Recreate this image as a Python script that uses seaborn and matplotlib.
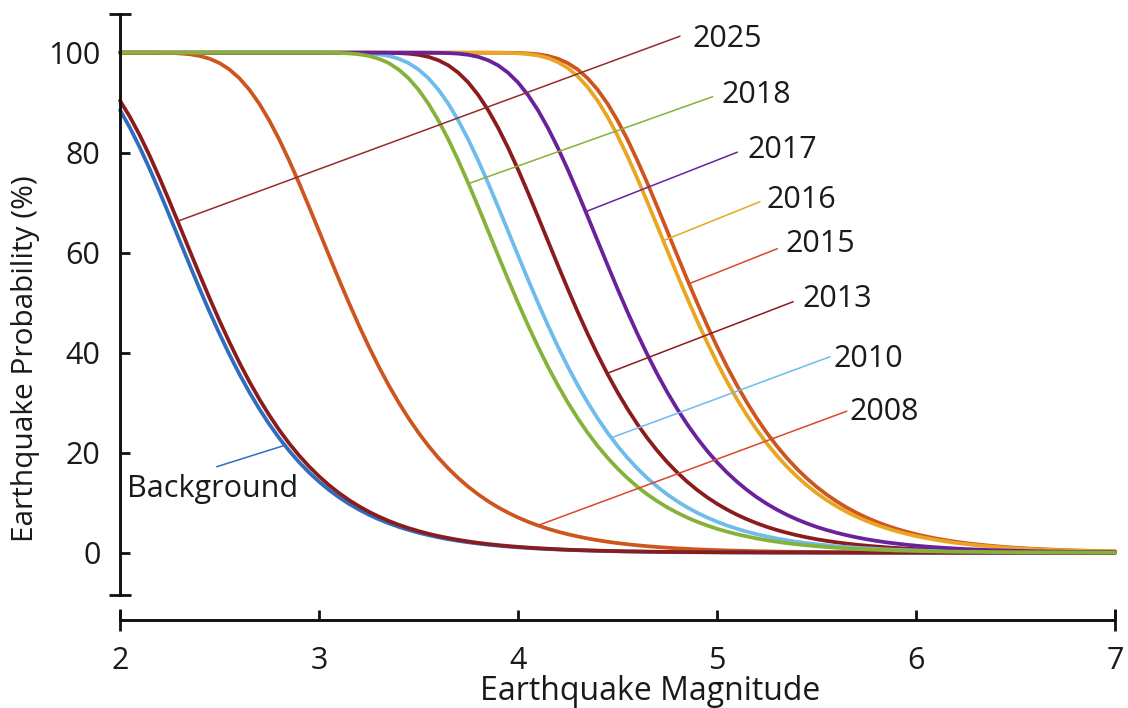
import numpy as np
import pandas as pd
import matplotlib
matplotlib.use("Agg")
import matplotlib.pyplot as plt
import seaborn as sns

# ---------------- data ----------------
magnitude = np.round(np.linspace(2.0, 7.0, 101), 2)   # 0.05 steps

background = [88.52, 84.98, 81.00, 76.66, 72.04, 67.25, 62.39, 57.54, 52.78, 48.17,
              43.78, 39.62, 35.72, 32.10, 28.76, 25.70, 22.92, 20.39, 18.10, 16.05,
              14.21, 12.56, 11.09, 9.79, 8.63, 7.60, 6.69, 5.89, 5.17, 4.55,
              4.00, 3.51, 3.08, 2.70, 2.37, 2.08, 1.83, 1.60, 1.41, 1.23,
              1.08, 0.95, 0.83, 0.73, 0.64, 0.56, 0.49, 0.43, 0.38, 0.33,
              0.29, 0.25, 0.22, 0.19, 0.17, 0.15, 0.13, 0.11, 0.10, 0.09,
              0.08, 0.07, 0.06, 0.05, 0.05, 0.04, 0.03, 0.03, 0.03, 0.02,
              0.02, 0.02, 0.02, 0.01, 0.01, 0.01, 0.01, 0.01, 0.01, 0.01,
              0.01, 0, 0, 0, 0, 0, 0, 0, 0, 0,
              0, 0, 0, 0, 0, 0, 0, 0, 0, 0,
              0]

p2025 = [90.40, 87.16, 83.44, 79.30, 74.84, 70.14, 65.31, 60.45, 55.62, 50.92,
         46.39, 42.09, 38.02, 34.23, 30.73, 27.50, 24.55, 21.87, 19.44, 17.25,
         15.29, 13.52, 11.95, 10.55, 9.31, 8.20, 7.22, 6.36, 5.59, 4.92,
         4.32, 3.79, 3.33, 2.93, 2.57, 2.25, 1.97, 1.73, 1.52, 1.33,
         1.17, 1.03, 0.90, 0.79, 0.69, 0.60, 0.53, 0.47, 0.41, 0.36,
         0.31, 0.27, 0.24, 0.21, 0.18, 0.16, 0.14, 0.12, 0.11, 0.10,
         0.08, 0.07, 0.06, 0.06, 0.05, 0.04, 0.04, 0.03, 0.03, 0.03,
         0.02, 0.02, 0.02, 0.02, 0.01, 0.01, 0.01, 0.01, 0.01, 0.01,
         0.01, 0.01, 0, 0, 0, 0, 0, 0, 0, 0,
         0, 0, 0, 0, 0, 0, 0, 0, 0, 0,
         0]

p2008 = [100, 100, 100, 100, 99.98, 99.95, 99.86, 99.69, 99.36, 98.80,
         97.93, 96.65, 94.89, 92.61, 89.79, 86.45, 82.65, 78.43, 73.92, 69.18,
         64.34, 59.47, 54.67, 50.00, 45.51, 41.25, 37.24, 33.51, 30.06, 26.89,
         23.99, 21.36, 18.98, 16.84, 14.92, 13.19, 11.66, 10.29, 9.07, 8.00,
         7.04, 6.19, 5.45, 4.79, 4.21, 3.70, 3.25, 2.85, 2.50, 2.19,
         1.92, 1.69, 1.48, 1.30, 1.14, 1.00, 0.87, 0.77, 0.67, 0.59,
         0.52, 0.45, 0.40, 0.35, 0.30, 0.27, 0.23, 0.20, 0.18, 0.16,
         0.14, 0.12, 0.11, 0.09, 0.08, 0.07, 0.06, 0.05, 0.05, 0.04,
         0.04, 0.03, 0.03, 0.02, 0.02, 0.02, 0.02, 0.01, 0.01, 0.01,
         0.01, 0.01, 0.01, 0.01, 0.01, 0.01, 0, 0, 0, 0,
         0]

p2018 = [100, 100, 100, 100, 100, 100, 100, 100, 100, 100,
         100, 100, 100, 100, 100, 100, 100, 100, 100, 100,
         100, 99.98, 99.95, 99.86, 99.69, 99.36, 98.80, 97.93, 96.65, 94.89,
         92.61, 89.79, 86.45, 82.65, 78.43, 73.92, 69.18, 64.34, 59.47, 54.67,
         50.00, 45.51, 41.25, 37.24, 33.51, 30.06, 26.89, 23.99, 21.36, 18.98,
         16.84, 14.92, 13.19, 11.66, 10.29, 9.07, 8.00, 7.04, 6.19, 5.45,
         4.79, 4.21, 3.70, 3.25, 2.85, 2.50, 2.19, 1.92, 1.69, 1.48,
         1.30, 1.14, 1.00, 0.87, 0.77, 0.67, 0.59, 0.52, 0.45, 0.40,
         0.35, 0.30, 0.27, 0.23, 0.20, 0.18, 0.16, 0.14, 0.12, 0.11,
         0.09, 0.08, 0.07, 0.06, 0.05, 0.05, 0.04, 0.04, 0.03, 0.03,
         0.02]

p2010 = [100, 100, 100, 100, 100, 100, 100, 100, 100, 100,
         100, 100, 100, 100, 100, 100, 100, 100, 100, 100,
         100, 100, 100, 99.98, 99.95, 99.86, 99.69, 99.36, 98.80, 97.93,
         96.65, 94.89, 92.61, 89.79, 86.45, 82.65, 78.43, 73.92, 69.18, 64.34,
         59.47, 54.67, 50.00, 45.51, 41.25, 37.24, 33.51, 30.06, 26.89, 23.99,
         21.36, 18.98, 16.84, 14.92, 13.19, 11.66, 10.29, 9.07, 8.00, 7.04,
         6.19, 5.45, 4.79, 4.21, 3.70, 3.25, 2.85, 2.50, 2.19, 1.92,
         1.69, 1.48, 1.30, 1.14, 1.00, 0.87, 0.77, 0.67, 0.59, 0.52,
         0.45, 0.40, 0.35, 0.30, 0.27, 0.23, 0.20, 0.18, 0.16, 0.14,
         0.12, 0.11, 0.09, 0.08, 0.07, 0.06, 0.05, 0.05, 0.04, 0.04,
         0.03]

p2013 = [100, 100, 100, 100, 100, 100, 100, 100, 100, 100,
         100, 100, 100, 100, 100, 100, 100, 100, 100, 100,
         100, 100, 100, 100, 100, 100, 99.99, 99.97, 99.92, 99.81,
         99.58, 99.17, 98.49, 97.47, 96.00, 94.05, 91.55, 88.52, 84.98, 81.00,
         76.66, 72.04, 67.25, 62.39, 57.54, 52.78, 48.17, 43.78, 39.62, 35.72,
         32.10, 28.76, 25.70, 22.92, 20.39, 18.10, 16.05, 14.21, 12.56, 11.09,
         9.79, 8.63, 7.60, 6.69, 5.89, 5.17, 4.55, 4.00, 3.51, 3.08,
         2.70, 2.37, 2.08, 1.83, 1.60, 1.41, 1.23, 1.08, 0.95, 0.83,
         0.73, 0.64, 0.56, 0.49, 0.43, 0.38, 0.33, 0.29, 0.25, 0.22,
         0.19, 0.17, 0.15, 0.13, 0.11, 0.10, 0.09, 0.08, 0.07, 0.06,
         0.05]

p2017 = [100, 100, 100, 100, 100, 100, 100, 100, 100, 100,
         100, 100, 100, 100, 100, 100, 100, 100, 100, 100,
         100, 100, 100, 100, 100, 100, 100, 100, 100, 100,
         100, 99.99, 99.97, 99.92, 99.81, 99.58, 99.17, 98.49, 97.47, 96.00,
         94.05, 91.55, 88.52, 84.98, 81.00, 76.66, 72.04, 67.25, 62.39, 57.54,
         52.78, 48.17, 43.78, 39.62, 35.72, 32.10, 28.76, 25.70, 22.92, 20.39,
         18.10, 16.05, 14.21, 12.56, 11.09, 9.79, 8.63, 7.60, 6.69, 5.89,
         5.17, 4.55, 4.00, 3.51, 3.08, 2.70, 2.37, 2.08, 1.83, 1.60,
         1.41, 1.23, 1.08, 0.95, 0.83, 0.73, 0.64, 0.56, 0.49, 0.43,
         0.38, 0.33, 0.29, 0.25, 0.22, 0.19, 0.17, 0.15, 0.13, 0.11,
         0.10]

p2016 = [100, 100, 100, 100, 100, 100, 100, 100, 100, 100,
         100, 100, 100, 100, 100, 100, 100, 100, 100, 100,
         100, 100, 100, 100, 100, 100, 100, 100, 100, 100,
         100, 100, 100, 100, 100, 100, 100, 100, 99.98, 99.96,
         99.88, 99.73, 99.44, 98.94, 98.13, 96.94, 95.28, 93.11, 90.40, 87.16,
         83.44, 79.30, 74.84, 70.14, 65.31, 60.45, 55.62, 50.92, 46.39, 42.09,
         38.02, 34.23, 30.73, 27.50, 24.55, 21.87, 19.44, 17.25, 15.29, 13.52,
         11.95, 10.55, 9.31, 8.20, 7.22, 6.36, 5.59, 4.92, 4.32, 3.79,
         3.33, 2.93, 2.57, 2.25, 1.97, 1.73, 1.52, 1.33, 1.17, 1.03,
         0.90, 0.79, 0.69, 0.60, 0.53, 0.47, 0.41, 0.36, 0.31, 0.27,
         0.24]

p2015 = [100, 100, 100, 100, 100, 100, 100, 100, 100, 100,
         100, 100, 100, 100, 100, 100, 100, 100, 100, 100,
         100, 100, 100, 100, 100, 100, 100, 100, 100, 100,
         100, 100, 100, 100, 100, 100, 100, 100, 100, 99.98,
         99.95, 99.86, 99.69, 99.36, 98.80, 97.93, 96.65, 94.89, 92.61, 89.79,
         86.45, 82.65, 78.43, 73.92, 69.18, 64.34, 59.47, 54.67, 50.00, 45.51,
         41.25, 37.24, 33.51, 30.06, 26.89, 23.99, 21.36, 18.98, 16.84, 14.92,
         13.19, 11.66, 10.29, 9.07, 8.00, 7.04, 6.19, 5.45, 4.79, 4.21,
         3.70, 3.25, 2.85, 2.50, 2.19, 1.92, 1.69, 1.48, 1.30, 1.14,
         1.00, 0.87, 0.77, 0.67, 0.59, 0.52, 0.45, 0.40, 0.35, 0.30,
         0.27]

# drawing order: first is lowest
series = {
    "2015": p2015, "2016": p2016, "2013": p2013, "2010": p2010,
    "2017": p2017, "2008": p2008, "Background": background,
    "2025": p2025, "2018": p2018,
}
palette = {
    "2015": "#CD561F", "2016": "#E9A622", "2013": "#8A1C1E", "2010": "#6DBCEB",
    "2017": "#6A229C", "2008": "#CD561F", "Background": "#2F6DC0",
    "2025": "#8A1C1E", "2018": "#86B23B",
}

# leader lines: label, point on curve, line end, text anchor (left, baseline), colour
leaders = [
    ("2025", (2.29, 66.3), (4.814, 103.3), (4.879, 101.1), "#982A2A"),
    ("2018", (3.75, 73.8), (4.978, 91.2), (5.025, 89.9), "#86B23B"),
    ("2017", (4.34, 68.2), (5.102, 80.1), (5.151, 78.9), "#6A229C"),
    ("2016", (4.73, 62.4), (5.216, 70.2), (5.251, 68.9), "#E9A622"),
    ("2015", (4.86, 53.8), (5.303, 60.8), (5.342, 60.2), "#D9482B"),
    ("2013", (4.45, 35.9), (5.383, 50.2), (5.432, 49.2), "#8A1C1E"),
    ("2010", (4.47, 23.0), (5.568, 39.2), (5.585, 37.2), "#6DBCEB"),
    ("2008", (4.10, 5.45), (5.652, 28.3), (5.668, 26.5), "#D9482B"),
    ("Background", (2.83, 21.5), (2.486, 17.2), (2.034, 11.2), "#2F6DC0"),
]

# ---------------- figure ----------------
sns.set_theme(style="white")
plt.rcParams["font.family"] = ["Open Sans", "DejaVu Sans"]
TXT = "#1a1a1a"
FS = 22

fig = plt.figure(figsize=(11.28, 7.08), dpi=100)
ax = fig.add_axes([0.09756, 0.12429, 0.89973, 0.85777])

df = pd.concat(
    [pd.DataFrame({"M": magnitude, "P": vals, "series": name}) for name, vals in series.items()],
    ignore_index=True,
)
sns.lineplot(data=df, x="M", y="P", hue="series", hue_order=list(series.keys()),
             palette=palette, linewidth=2.7, legend=False, errorbar=None, ax=ax)
for ln in ax.lines:
    ln.set_solid_joinstyle("round")
    ln.set_solid_capstyle("round")

ax.set_xlim(1.95, 7.05)
ax.set_ylim(-13.46, 108)

for side in ("top", "right"):
    ax.spines[side].set_visible(False)
for side in ("left", "bottom"):
    ax.spines[side].set_linewidth(2.1)
    ax.spines[side].set_color("#111111")
ax.spines["left"].set_position(("data", 2.0))
ax.spines["left"].set_bounds(-8.5, 107.7)
ax.spines["bottom"].set_bounds(2.0, 7.0)

ax.set_xticks([2, 3, 4, 5, 6, 7])
ax.set_yticks([0, 20, 40, 60, 80, 100])
ax.set_xticks([2, 7], minor=True)
ax.set_yticks([-8.5, 107.7], minor=True)
ax.xaxis.remove_overlapping_locs = False
ax.yaxis.remove_overlapping_locs = False

ax.tick_params(which="major", direction="in", length=7.2, width=2.0, color="#111111",
               labelsize=FS, labelcolor=TXT, bottom=True, left=True)
ax.tick_params(axis="x", which="major", pad=19)
ax.tick_params(axis="y", which="major", pad=14)
ax.tick_params(which="minor", direction="inout", length=16, width=2.0, color="#111111",
               bottom=True, left=True)

ax.set_xlabel("Earthquake Magnitude", fontsize=23, color=TXT, va="center")
ax.set_ylabel("Earthquake Probability (%)", fontsize=21.5, color=TXT, va="center")
ax.xaxis.set_label_coords(0.532, -0.117)
ax.yaxis.set_label_coords(-0.0837, 0.43)

for label, start, end, tpos, col in leaders:
    ax.annotate("", xy=start, xytext=end,
                arrowprops=dict(arrowstyle="-", color=col, lw=1.1, shrinkA=0, shrinkB=0))
    ax.text(tpos[0], tpos[1], label, fontsize=FS, color=TXT, ha="left", va="baseline")

fig.savefig("out.png", dpi=100)
